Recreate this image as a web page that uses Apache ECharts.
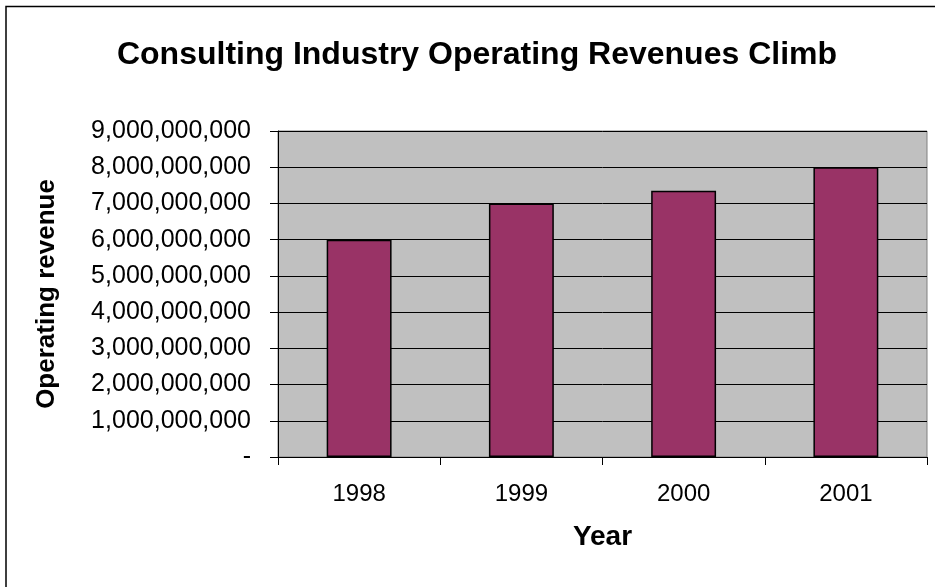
<!DOCTYPE html>
<html><head><meta charset="utf-8">
<script src="https://cdn.jsdelivr.net/npm/echarts@6/dist/echarts.min.js"></script>
<style>html,body{margin:0;padding:0;background:#fff}#c{width:935px;height:587px}</style>
</head><body><div id="c"></div>
<script>
const categories = ['1998', '1999', '2000', '2001'];
const revenues = [6000000000, 7000000000, 7350000000, 8000000000];
const yTicks = [0, 1000000000, 2000000000, 3000000000, 4000000000, 5000000000, 6000000000, 7000000000, 8000000000, 9000000000];

const chart = echarts.init(document.getElementById('c'), null, {renderer: 'canvas'});
const font = '"Liberation Sans", Arial, sans-serif';
function fmt(v) {
  if (v === 0) return '-';
  return v.toString().replace(/\B(?=(\d{3})+(?!\d))/g, ',');
}
chart.setOption({
  animation: false,
  backgroundColor: '#ffffff',
  graphic: [{
    type: 'polyline', silent: true,
    shape: {points: [[6, 600], [6, 6.5], [940, 6.5]]},
    style: {stroke: '#000', lineWidth: 1.5, fill: null}
  }],
  title: {
    text: 'Consulting Industry Operating Revenues Climb',
    left: 472, top: 34, textAlign: 'center',
    textStyle: {fontFamily: font, fontSize: 32, fontWeight: 'bold', color: '#000'}
  },
  grid: {left: 278, top: 131, right: 8, bottom: 130, show: true, backgroundColor: '#c0c0c0', borderColor: '#808080', borderWidth: 1},
  xAxis: {
    type: 'category', data: categories,
    name: 'Year', nameLocation: 'middle', nameGap: 66,
    nameTextStyle: {fontFamily: font, fontSize: 28, fontWeight: 'bold', color: '#000'},
    axisLine: {lineStyle: {color: '#000', width: 1}},
    axisTick: {show: true, alignWithLabel: false, length: 8, lineStyle: {color: '#000'}},
    axisLabel: {fontFamily: font, fontSize: 24, color: '#000', margin: 25}
  },
  yAxis: {
    type: 'value', min: 0, max: 9000000000, interval: 1000000000,
    name: 'Operating revenue', nameLocation: 'middle', nameGap: 218, nameRotate: 90,
    nameTextStyle: {fontFamily: font, fontSize: 26, fontWeight: 'bold', color: '#000'},
    axisLine: {show: true, lineStyle: {color: '#000', width: 1}},
    axisTick: {show: true, length: 8, lineStyle: {color: '#000'}},
    axisLabel: {fontFamily: font, fontSize: 25, color: '#000', margin: 27, formatter: v => fmt(v)},
    splitLine: {show: true, lineStyle: {color: '#000', width: 1}}
  },
  series: [{
    type: 'bar', data: revenues, barWidth: '40%',
    itemStyle: {color: '#993366', borderColor: '#000', borderWidth: 1.5}
  }]
});
</script></body></html>
